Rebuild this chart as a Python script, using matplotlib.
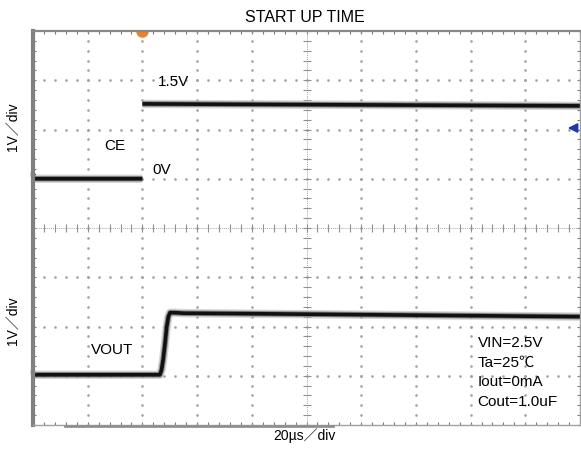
'''
 Oscilloscope style plot of the start up time (CE and VOUT traces)
'''
import numpy as np                 # We import numpy for the grid positions
import matplotlib
matplotlib.use('Agg')
import matplotlib.pyplot as plt    # We import a library for plotting
from matplotlib.lines import Line2D

plt.rcParams['font.family'] = ['Liberation Sans', 'Noto Sans CJK JP', 'DejaVu Sans']

# Time axis of the scope (us), 20us per division and 10 divisions
t_range = [0, 200]
div_range = [-4, 4]

# CE trace (V), ground of the channel at +1.0 div
ce_ground = 1.0
ce_t = [0, 40, 40, 40, 120, 200]
ce_v = [0.0, 0.0, np.nan, 1.52, 1.50, 1.48]

# VOUT trace (V), ground of the channel at -2.98 div
vout_ground = -2.98
vout_t = [0, 46.4, 47.0, 47.6, 48.3, 48.9, 49.5, 50.1, 52, 55, 80, 120, 160, 200]
vout_v = [0.0, 0.0, 0.10, 0.31, 0.65, 0.98, 1.18, 1.26, 1.26, 1.25, 1.24, 1.22, 1.20, 1.18]

# Conditions of the measure
conditions = ['VIN=2.5V', 'Ta=25℃', 'Iout=0mA', 'Cout=1.0uF']

fig = plt.figure(figsize=(5.81, 4.5), dpi=100) # Figure of the graph
ax = fig.add_axes([33/581, 25/450, 547/581, 394/450]) # Screen of the scope
ax.set_xlim(t_range)
ax.set_ylim(div_range)

# Borders of the screen
for side in ['top', 'right', 'bottom']:
    ax.spines[side].set_color('#a0a0a0')
    ax.spines[side].set_linewidth(1.0)
ax.spines['left'].set_color('#808080')
ax.spines['left'].set_linewidth(3.0)
ax.spines['top'].set_color('#888888')
ax.spines['top'].set_linewidth(1.6)

# Small ticks along the edges every 0.2 div
ax.set_xticks(np.arange(0, 200.1, 4))
ax.set_yticks(np.arange(-4, 4.01, 0.2))
ax.tick_params(direction='in', length=2.5, width=0.8, color='#7a7a7a',
               top=True, right=True, labelbottom=False, labelleft=False)

# Dotted grid of the divisions
dot_y = np.arange(-4, 4.01, 0.2)
dot_x = np.arange(0, 200.1, 4)
for k in range(1, 10):
    if k == 5:
        continue
    ax.plot(np.full(len(dot_y), 20*k), dot_y, linestyle='none', marker='s', ms=0.8, color='#a0a0a0')
for k in range(-3, 4):
    if k == 0:
        continue
    ax.plot(dot_x, np.full(len(dot_x), k), linestyle='none', marker='s', ms=0.8, color='#a0a0a0')

# Central cross with its ticks
ax.axhline(0, linewidth=0.7, color='#a8a8a8', linestyle=(0, (1, 1)))
ax.axvline(100, linewidth=0.7, color='#a8a8a8', linestyle=(0, (1, 1)))
ax.plot(dot_x, np.zeros(len(dot_x)), linestyle='none', marker='|', ms=6, mew=0.8, color='#909090')
ax.plot(np.full(len(dot_y), 100), dot_y, linestyle='none', marker='_', ms=6, mew=0.8, color='#909090')

# Traces: a gray halo for the noise and the black core
ce_y = np.array(ce_v) + ce_ground
vout_y = np.array(vout_v) + vout_ground
for t, y in [(ce_t, ce_y), (vout_t, vout_y)]:
    ax.plot(t, y, linewidth=6.0, color='#b8b8b8', alpha=0.6, solid_capstyle='butt')
    ax.plot(t, y, linewidth=4.0, color='#555555', alpha=0.6, solid_capstyle='butt')
    ax.plot(t, y, linewidth=2.6, color='#111111', solid_capstyle='butt')

# Markers of the scope
ax.plot(40, 4, marker='o', ms=8, color='#f08020', clip_on=True) # Trigger position
ax.annotate('', xy=(194.5, 2.03), xytext=(200, 2.03),
            arrowprops=dict(arrowstyle='-|>', color='#1f3aa8', lw=1.3, mutation_scale=14),
            annotation_clip=False) # Trigger level
ax.plot(0, ce_ground + 0.1, marker='>', ms=3, color='#3050c0', clip_on=False)
ax.plot(0, vout_ground + 0.05, marker='>', ms=3, color='#30b0c0', clip_on=False)

# Record bar under the screen
fig.add_artist(Line2D([65/581, 333/581], [1 - 426/450, 1 - 426/450], linewidth=2, color='#909090'))

# Texts on the screen
ax.text(45.7, 2.96, '1.5V', fontsize=11, ha='left', va='center')
ax.text(43.5, 1.18, '0V', fontsize=11, ha='left', va='center')
ax.text(30.0, 1.67, 'CE', fontsize=11, ha='center', va='center')
ax.text(28.9, -2.47, 'VOUT', fontsize=11, ha='center', va='center')
for i, line in enumerate(conditions):
    ax.text(162.5, -2.33 - 0.4*i, line, fontsize=11, ha='left', va='center')

# Titles and scales
fig.text(304.5/581, 1 - 17/450, 'START UP TIME', fontsize=11.5, ha='center', va='center')
fig.text(304/581, 1 - 436/450, '20µs／div', fontsize=10, ha='center', va='center')
fig.text(13/581, 1 - 127/450, '1V／div', fontsize=10, ha='center', va='center', rotation=90)
fig.text(13/581, 1 - 321/450, '1V／div', fontsize=10, ha='center', va='center', rotation=90)

fig.savefig('out.png', dpi=100)
